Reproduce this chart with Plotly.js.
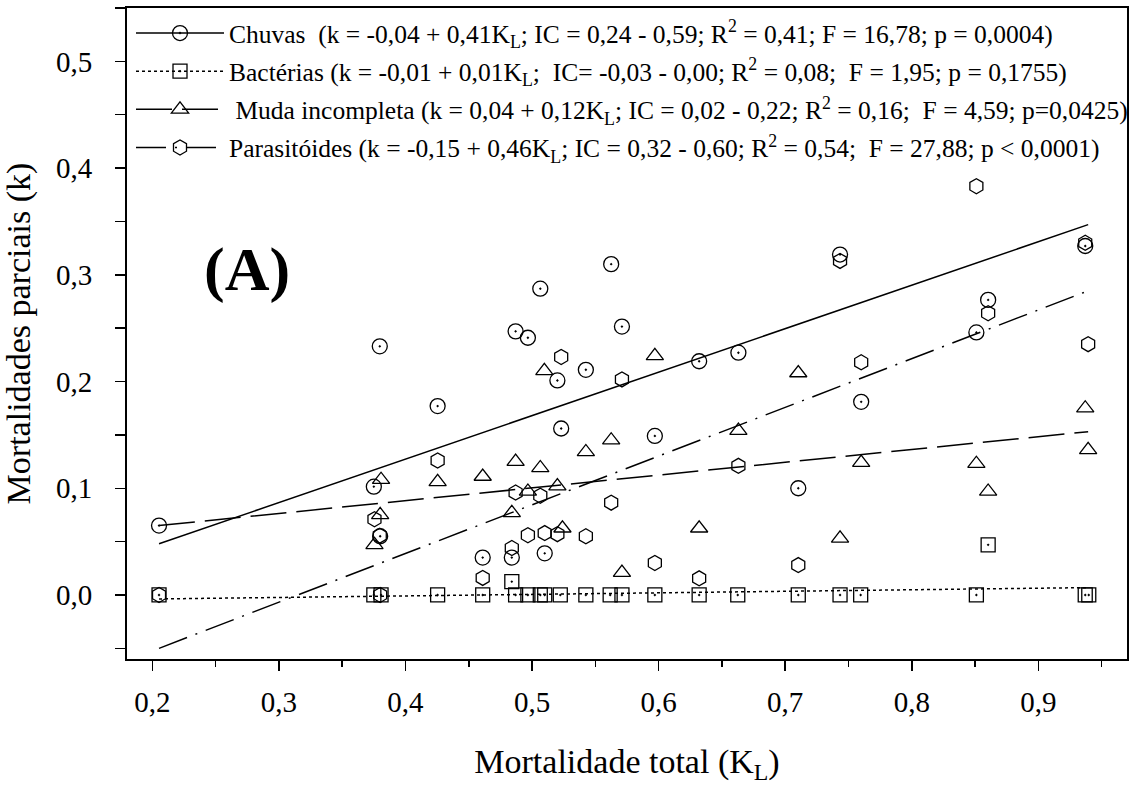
<!DOCTYPE html>
<html>
<head>
<meta charset="utf-8">
<script src="https://cdn.plot.ly/plotly-3.0.1.min.js"></script>
<style>html,body{margin:0;padding:0;background:#fff;}#chart{width:1140px;height:791px;}</style>
</head>
<body>
<div id="chart"></div>
<script>
// ---- Data ----
const chuvasKL = [0.2053,0.375,0.3797,0.380,0.4254,0.461,0.484,0.487,0.4967,0.5065,0.510,0.520,0.523,0.5425,0.5625,0.571,0.597,0.632,0.663,0.7103,0.7433,0.760,0.851,0.8603,0.937];
const chuvasK  = [0.065,0.1015,0.233,0.055,0.177,0.035,0.035,0.247,0.241,0.287,0.039,0.201,0.156,0.211,0.310,0.2515,0.149,0.219,0.227,0.100,0.319,0.181,0.246,0.2765,0.327];

const bactKL = [0.2053,0.375,0.3807,0.4254,0.461,0.484,0.487,0.4967,0.5065,0.510,0.5223,0.5425,0.5617,0.571,0.597,0.632,0.6625,0.7103,0.7433,0.7596,0.851,0.8603,0.937,0.9398];
const bactK  = [0,0,0,0,0,0.0125,0,0,0,0,0,0,0,0,0,0,0,0,0,0,0,0.047,0,0];

const mudaKL = [0.3755,0.380,0.3807,0.4254,0.461,0.484,0.487,0.4967,0.5065,0.5097,0.520,0.524,0.5425,0.5625,0.571,0.597,0.632,0.663,0.7103,0.7433,0.760,0.851,0.8603,0.937,0.9393];
const mudaK  = [0.047,0.075,0.108,0.106,0.111,0.077,0.125,0.097,0.119,0.210,0.102,0.0625,0.134,0.145,0.021,0.224,0.0625,0.154,0.208,0.053,0.124,0.123,0.097,0.175,0.136];

const parasKL = [0.2053,0.3755,0.3797,0.380,0.4254,0.461,0.484,0.487,0.4967,0.5065,0.510,0.520,0.523,0.5425,0.5625,0.571,0.597,0.632,0.663,0.7103,0.7433,0.760,0.851,0.8603,0.937,0.9393];
const parasK  = [0,0.071,0.0556,0,0.126,0.016,0.044,0.096,0.056,0.093,0.058,0.057,0.223,0.055,0.0865,0.202,0.030,0.0156,0.121,0.028,0.313,0.218,0.383,0.264,0.330,0.235];

// fitted regression lines (end points)
const lineKL      = [0.2053, 0.9393];
const chuvasFit   = [0.048, 0.347];
const bactFit     = [-0.0037, 0.0069];
const mudaFit     = [0.065, 0.153];
const parasFit    = [-0.050, 0.285];

const legendTexts = [
  'Chuvas&nbsp;&nbsp;(k = -0,04 + 0,41K<sub>L</sub>; IC = 0,24 - 0,59; R<sup>2</sup> = 0,41; F = 16,78; p = 0,0004)',
  'Bactérias (k = -0,01 + 0,01K<sub>L</sub>;&nbsp;&nbsp;IC= -0,03 - 0,00; R<sup>2</sup> = 0,08;&nbsp;&nbsp;F = 1,95; p = 0,1755)',
  '&nbsp;Muda incompleta (k = 0,04 + 0,12K<sub>L</sub>; IC = 0,02 - 0,22; R<sup>2</sup> = 0,16;&nbsp;&nbsp;F = 4,59; p=0,0425)',
  'Parasitóides (k = -0,15 + 0,46K<sub>L</sub>; IC = 0,32 - 0,60; R<sup>2</sup> = 0,54;&nbsp;&nbsp;F = 27,88; p &lt; 0,0001)'
];
const xTitle = 'Mortalidade total (K<sub>L</sub>)';
const yTitle = 'Mortalidades parciais (k)';
const panelLabel = '(A)';

// ---- Styles ----
const BLACK = '#000';
const mk = (sym, size) => ({symbol: sym, size: size, color: BLACK, line: {color: BLACK, width: 1.3}});
const groups = [
  {name: legendTexts[0], x: chuvasKL, y: chuvasK, fit: chuvasFit, sym: 'circle-open-dot', size: 15, dash: 'solid'},
  {name: legendTexts[1], x: bactKL, y: bactK, fit: bactFit, sym: 'square-open-dot', size: 14, dash: 'dot'},
  {name: legendTexts[2], x: mudaKL, y: mudaK, fit: mudaFit, sym: 'triangle-up-open', size: 15, dash: '36px,10px'},
  {name: legendTexts[3], x: parasKL, y: parasK, fit: parasFit, sym: 'hexagon-open', size: 15, dash: '30px,9px,2px,9px'}
];

const traces = [];
groups.forEach((g, i) => {
  traces.push({
    type: 'scatter', mode: 'lines', x: lineKL, y: g.fit,
    line: {color: BLACK, width: 1.5, dash: g.dash},
    showlegend: false, hoverinfo: 'skip', legendgroup: 'g' + i
  });
  traces.push({
    type: 'scatter', mode: 'markers', x: g.x, y: g.y,
    marker: mk(g.sym, g.size), showlegend: false, legendgroup: 'g' + i
  });
  // legend entry (line + marker sample)
  traces.push({
    type: 'scatter', mode: 'lines+markers', x: [null], y: [null],
    name: g.name, legendgroup: 'g' + i,
    line: {color: BLACK, width: 1.5, dash: g.dash},
    marker: mk(g.sym, g.size)
  });
});

const FONT = '"Liberation Serif", "Times New Roman", Times, serif';

const layout = {
  width: 1140, height: 791,
  paper_bgcolor: '#fff', plot_bgcolor: '#fff',
  margin: {l: 127, r: 13, t: 8, b: 132, autoexpand: false},
  separators: ', ',
  font: {family: FONT, color: BLACK, size: 29},
  showlegend: true,
  legend: {
    x: 0.004, y: 0.997, xanchor: 'left', yanchor: 'top',
    bgcolor: 'rgba(0,0,0,0)', borderwidth: 0,
    font: {family: FONT, size: 25.5, color: BLACK},
    tracegroupgap: 2, itemwidth: 88
  },
  xaxis: {
    range: [0.180, 0.970], tickvals: [0.2,0.3,0.4,0.5,0.6,0.7,0.8,0.9],
    tickformat: '.1f', ticks: 'outside', ticklen: 10, tickwidth: 1.5, tickcolor: BLACK,
    minor: {ticks: 'outside', ticklen: 6, tickwidth: 1.5, tickcolor: BLACK, dtick: 0.05, showgrid: false},
    showline: true, linewidth: 2, linecolor: BLACK, mirror: true,
    showgrid: false, zeroline: false, automargin: false,
    tickfont: {family: FONT, size: 29, color: BLACK}, ticklabelstandoff: 6,
    title: {text: xTitle, font: {family: FONT, size: 34, color: BLACK}, standoff: 32}
  },
  yaxis: {
    range: [-0.060, 0.550], tickvals: [0,0.1,0.2,0.3,0.4,0.5],
    tickformat: '.1f', ticks: 'outside', ticklen: 10, tickwidth: 1.5, tickcolor: BLACK,
    minor: {ticks: 'outside', ticklen: 10, tickwidth: 1.5, tickcolor: BLACK, dtick: 0.05, showgrid: false},
    showline: true, linewidth: 2, linecolor: BLACK, mirror: true,
    showgrid: false, zeroline: false, automargin: false,
    tickfont: {family: FONT, size: 29, color: BLACK}, ticklabelstandoff: 17,
    title: {text: yTitle, font: {family: FONT, size: 34, color: BLACK}, standoff: 20}
  },
  annotations: [{
    text: '<b>' + panelLabel + '</b>', xref: 'x', yref: 'y', x: 0.275, y: 0.305,
    showarrow: false, font: {family: FONT, size: 62, color: BLACK}
  }]
};

Plotly.newPlot('chart', traces, layout, {displayModeBar: false, staticPlot: true});
</script>
</body>
</html>
